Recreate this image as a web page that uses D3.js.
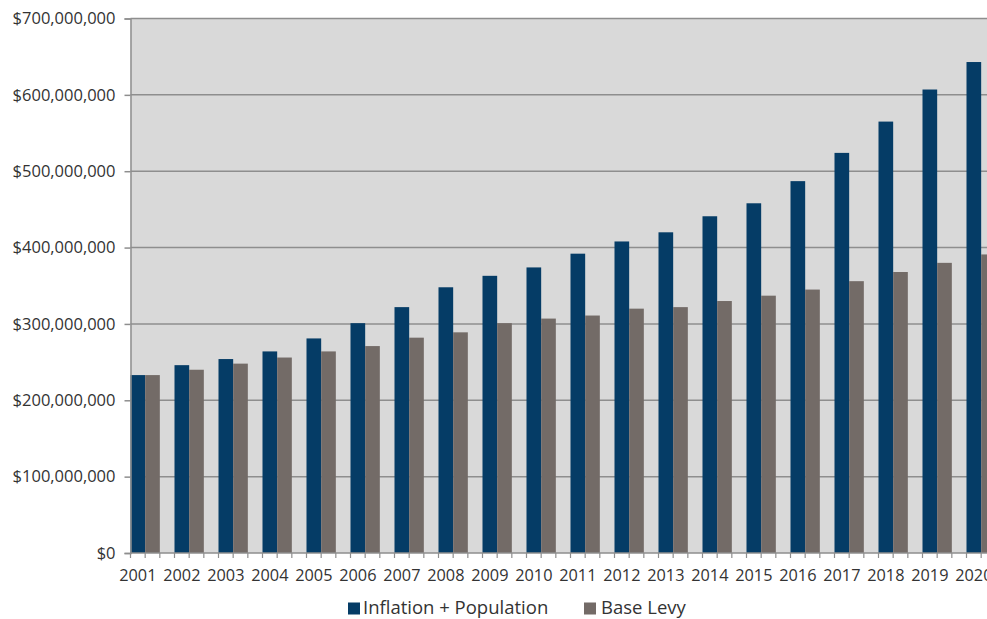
<!DOCTYPE html>
<html>
<head>
<meta charset="utf-8">
<script src="https://cdn.jsdelivr.net/npm/d3@7"></script>
<style>
  html, body { margin: 0; padding: 0; background: #ffffff; }
  svg { display: block; }
  text { font-family: "Open Sans", "Liberation Sans", sans-serif; fill: #333; }
</style>
</head>
<body>
<svg id="chart" width="987" height="619"></svg>
<script>
const years = ["2001","2002","2003","2004","2005","2006","2007","2008","2009","2010",
               "2011","2012","2013","2014","2015","2016","2017","2018","2019","2020"];
const inflationPopulation = [233e6,246e6,254e6,264e6,281e6,301e6,322e6,348e6,363e6,374e6,
                             392e6,408e6,420e6,441e6,458e6,487e6,524e6,565e6,607e6,643e6];
const baseLevy = [233e6,240e6,248e6,256e6,264e6,271e6,282e6,289e6,301e6,307e6,
                  311e6,320e6,322e6,330e6,337e6,345e6,356e6,368e6,380e6,391e6];
const seriesNames = ["Inflation + Population", "Base Levy"];
const yTicks = [0,100e6,200e6,300e6,400e6,500e6,600e6,700e6];

const colors = { "Inflation + Population": "#053c66", "Base Levy": "#736b67" };

(function () {
const svg = d3.select("#chart");
const pLeft = 130.5, pTop = 18.5, pBottom = 553, step = 44.0;
const pRight = pLeft + step * years.length;

const x = d3.scaleBand().domain(years).range([pLeft, pRight]).paddingInner(0).paddingOuter(0);
const slots = d3.scaleBand().domain([...seriesNames, "gap"]).range([0, x.bandwidth()]);
const y = d3.scaleLinear().domain([0, 700e6]).range([pBottom, pTop]);

// plot background
svg.append("rect").attr("x", pLeft).attr("y", pTop).attr("width", pRight - pLeft).attr("height", pBottom - pTop)
  .attr("fill", "#d9d9d9");

// gridlines
svg.append("g").selectAll("line").data(yTicks.filter(d => d > 0)).join("line")
  .attr("x1", pLeft).attr("x2", pRight)
  .attr("y1", d => y(d)).attr("y2", d => y(d))
  .attr("stroke", "#8e8e8e").attr("stroke-width", 1.5);

// bars
const data = years.map((yr, i) => ({ year: yr, values: [
  { key: seriesNames[0], value: inflationPopulation[i] },
  { key: seriesNames[1], value: baseLevy[i] } ] }));

svg.append("g").selectAll("g").data(data).join("g")
  .attr("transform", d => `translate(${x(d.year)},0)`)
  .selectAll("rect").data(d => d.values).join("rect")
  .attr("x", d => slots(d.key))
  .attr("width", slots.bandwidth())
  .attr("y", d => y(d.value))
  .attr("height", d => y(0) - y(d.value))
  .attr("fill", d => colors[d.key]);

// y axis
const yAxis = d3.axisLeft(y).tickValues(yTicks).tickSize(6).tickPadding(9)
  .tickFormat(d => "$" + d3.format(",")(d));
const gy = svg.append("g").attr("transform", `translate(${pLeft},0)`).call(yAxis);
gy.select(".domain").attr("stroke", "#8e8e8e").attr("stroke-width", 1.5);
gy.selectAll(".tick line").attr("stroke", "#8e8e8e").attr("stroke-width", 1.5);
gy.selectAll(".tick text").attr("font-size", "16.5px").attr("fill", "#3a3a3a")
  .attr("font-family", "'Open Sans', sans-serif");

// x axis baseline and minor ticks (three per category)
const gx = svg.append("g");
gx.append("line").attr("x1", pLeft).attr("x2", pRight).attr("y1", pBottom).attr("y2", pBottom)
  .attr("stroke", "#8e8e8e").attr("stroke-width", 1.5);
const tickXs = [];
years.forEach(yr => { [...seriesNames, "gap"].forEach(s => tickXs.push(x(yr) + slots(s))); });
tickXs.push(pRight);
gx.selectAll("line.t").data(tickXs).join("line").attr("class", "t")
  .attr("x1", d => d).attr("x2", d => d).attr("y1", pBottom).attr("y2", pBottom + 5)
  .attr("stroke", "#8e8e8e").attr("stroke-width", 1.2);
gx.selectAll("text").data(years).join("text")
  .attr("x", d => x(d) + x.bandwidth() / 6)
  .attr("y", 580.5)
  .attr("text-anchor", "middle")
  .attr("font-size", "16.3px").attr("fill", "#3a3a3a")
  .text(d => d);

// legend
const legendItems = [
  { key: seriesNames[0], sx: 348, tx: 363 },
  { key: seriesNames[1], sx: 584, tx: 601 }
];
const lg = svg.append("g");
lg.selectAll("rect").data(legendItems).join("rect")
  .attr("x", d => d.sx).attr("y", 602.5).attr("width", 12).attr("height", 12)
  .attr("fill", d => colors[d.key]);
lg.selectAll("text").data(legendItems).join("text")
  .attr("x", d => d.tx).attr("y", 614)
  .attr("font-size", "18.5px").attr("fill", "#2a2a2a")
  .text(d => d.key);
})();
</script>
</body>
</html>
